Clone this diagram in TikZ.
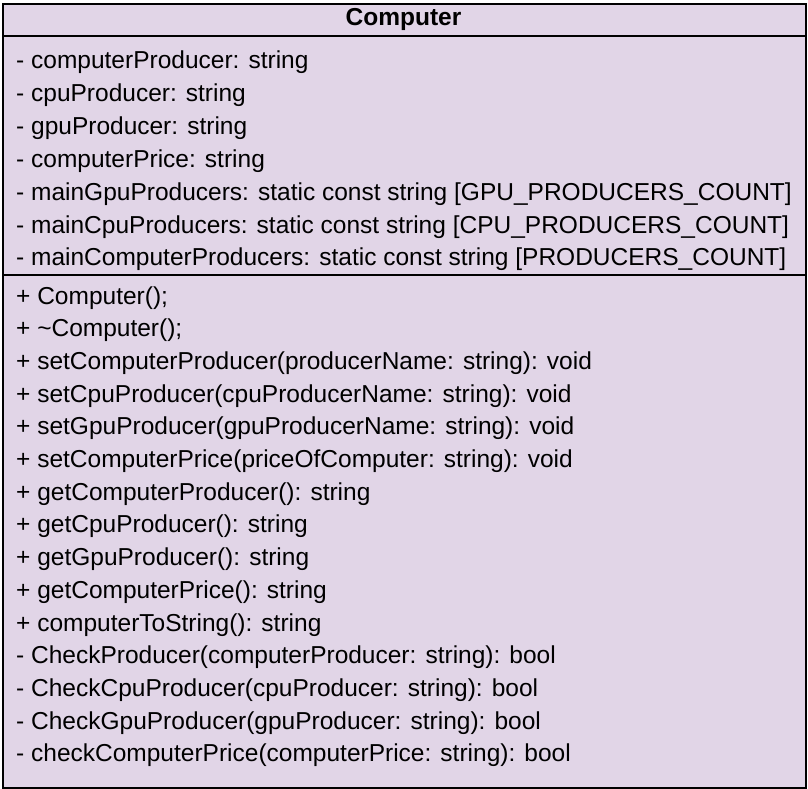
\documentclass[tikz,border=0pt]{standalone}
\usepackage{fontspec}
\setmainfont{Liberation Sans}
\begin{document}
\begin{tikzpicture}[x=1pt,y=-1pt,
  member/.style={anchor=base west,inner sep=0pt,font=\fontsize{24.5}{28}\selectfont},
  title/.style={anchor=base,inner sep=0pt,font=\fontsize{24.5}{28}\selectfont\bfseries},
  sep/.style={line width=2pt,draw=black}]
\definecolor{umlfill}{HTML}{E1D5E7}
\useasboundingbox (0,0) rectangle (808,789);
\node[draw=black,line width=2pt,fill=umlfill,minimum width=803pt,minimum height=784pt,anchor=north west,inner sep=0pt] (box) at (2,3) {};
\node[title] (hdr) at (403.5,26) {Computer};
\draw[sep] (2,36) -- (805,36);
\draw[sep] (2,275) -- (805,275);
\foreach \t [count=\i from 0] in {
  {- computerProducer: string},
  {- cpuProducer: string},
  {- gpuProducer: string},
  {- computerPrice: string},
  {- mainGpuProducers: static const string [GPU\_PRODUCERS\_COUNT]},
  {- mainCpuProducers: static const string [CPU\_PRODUCERS\_COUNT]},
  {- mainComputerProducers: static const string [PRODUCERS\_COUNT]}}
  \node[member] (a\i) at (16,{69+32.83*\i}) {\t};
\foreach \t [count=\i from 0] in {
  {+ Computer();},
  {+ \char`\~Computer();},
  {+ setComputerProducer(producerName: string): void},
  {+ setCpuProducer(cpuProducerName: string): void},
  {+ setGpuProducer(gpuProducerName: string): void},
  {+ setComputerPrice(priceOfComputer: string): void},
  {+ getComputerProducer(): string},
  {+ getCpuProducer(): string},
  {+ getGpuProducer(): string},
  {+ getComputerPrice(): string},
  {+ computerToString(): string},
  {- CheckProducer(computerProducer: string): bool},
  {- CheckCpuProducer(cpuProducer: string): bool},
  {- CheckGpuProducer(gpuProducer: string): bool},
  {- checkComputerPrice(computerPrice: string): bool}}
  \node[member] (m\i) at (16,{304+32.7*\i}) {\t};
\end{tikzpicture}
\end{document}
